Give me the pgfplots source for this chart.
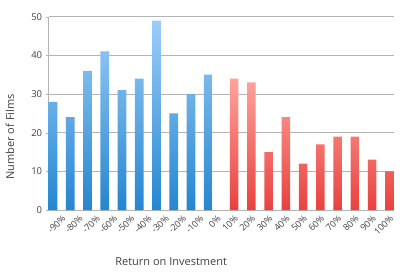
\documentclass[border=0pt]{standalone}
\usepackage{fontspec}
\setmainfont{Open Sans}
\usepackage{pgfplots}
\pgfplotsset{compat=1.18}
\definecolor{bluetop}{HTML}{9CCDF7}
\definecolor{bluebot}{HTML}{2586D0}
\definecolor{redtop}{HTML}{FFA39C}
\definecolor{redbot}{HTML}{E8423F}
\definecolor{gridc}{HTML}{B4B4B4}
\definecolor{txt}{HTML}{404040}
\begin{document}
\begin{tikzpicture}
\begin{axis}[
  scale only axis,
  width=345pt, height=193.3pt,
  xmin=0, xmax=20, ymin=0, ymax=50,
  axis lines*=left,
  axis line style={draw=gridc},
  ytick={0,10,...,50},
  ymajorgrids,
  grid style={draw=gridc, line width=0.6pt},
  tick align=outside,
  major tick length=3pt,
  tick style={draw=gridc},
  xtick={0.5,1.5,...,19.5},
  xticklabels={-90\%,-80\%,-70\%,-60\%,-50\%,-40\%,-30\%,-20\%,-10\%,0\%,10\%,20\%,30\%,40\%,50\%,60\%,70\%,80\%,90\%,100\%},
  x tick label style={rotate=45, anchor=north east, font=\fontsize{9}{10}\selectfont, text=txt, xshift=3pt, yshift=-3pt, inner sep=1pt},
  xtick style={draw=none},
  extra x ticks={0,1,...,20},
  extra x tick labels={},
  extra x tick style={tick style={draw=gridc}, major tick length=4pt, grid=none},
  y tick label style={font=\fontsize{9.5}{10}\selectfont, text=txt},
  /pgf/number format/assume math mode=true,
  ylabel={Number of Films},
  ylabel style={font=\fontsize{11}{12}\selectfont, text=txt, at={(axis description cs:-0.09,0.378)}},
  xlabel={Return on Investment},
  xlabel style={font=\fontsize{11}{12}\selectfont, text=txt, at={(axis description cs:0.355,-0.265)}, anchor=center},
]
\addplot[ybar, bar shift=0pt, bar width=0.5, draw=none, top color=bluetop, bottom color=bluebot]
  coordinates {(0.25,28) (1.25,24) (2.25,36) (3.25,41) (4.25,31) (5.25,34) (6.25,49) (7.25,25) (8.25,30) (9.25,35)};
\addplot[ybar, bar shift=0pt, bar width=0.5, draw=none, top color=redtop, bottom color=redbot]
  coordinates {(10.75,34) (11.75,33) (12.75,15) (13.75,24) (14.75,12) (15.75,17) (16.75,19) (17.75,19) (18.75,13) (19.75,10)};
\end{axis}
\path[use as bounding box] (-48.7pt,-61pt) rectangle (363.3pt,210pt);
\end{tikzpicture}
\end{document}
